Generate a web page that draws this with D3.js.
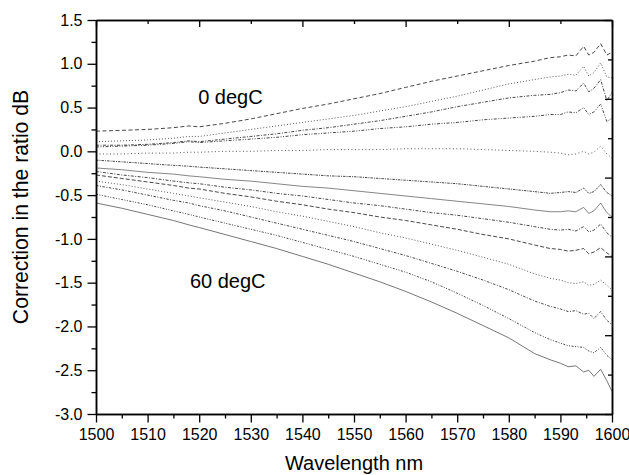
<!DOCTYPE html>
<html>
<head>
<meta charset="utf-8">
<script src="https://cdn.jsdelivr.net/npm/d3@7"></script>
<style>
  body { margin: 0; background: #fff; }
  text { font-family: "Liberation Sans", Arial, sans-serif; fill: #000; }
</style>
</head>
<body>
<svg id="chart"></svg>
<script>
// wavelength samples (nm)
const wavelengths = [1500, 1505, 1510, 1515, 1518, 1520, 1525, 1530, 1535, 1540, 1545, 1550, 1555, 1560, 1565, 1570, 1575, 1580, 1585, 1588, 1590, 1591.5, 1593, 1594.5, 1595.5, 1596.5, 1597.8, 1599, 1600];

// correction curves (dB), 0 degC at the top down to 60 degC at the bottom
const curve1 = [0.23, 0.24, 0.25, 0.27, 0.29, 0.28, 0.32, 0.37, 0.43, 0.49, 0.54, 0.60, 0.66, 0.73, 0.80, 0.86, 0.92, 0.98, 1.03, 1.07, 1.08, 1.10, 1.09, 1.20, 1.10, 1.13, 1.23, 1.10, 1.13];
const curve2 = [0.11, 0.12, 0.13, 0.15, 0.17, 0.17, 0.21, 0.25, 0.29, 0.33, 0.37, 0.41, 0.46, 0.51, 0.57, 0.63, 0.70, 0.77, 0.82, 0.85, 0.86, 0.88, 0.87, 0.97, 0.86, 0.90, 1.01, 0.85, 0.84];
const curve3 = [0.07, 0.07, 0.08, 0.10, 0.12, 0.11, 0.14, 0.17, 0.20, 0.24, 0.27, 0.31, 0.35, 0.40, 0.45, 0.51, 0.56, 0.61, 0.64, 0.65, 0.67, 0.70, 0.69, 0.78, 0.68, 0.72, 0.82, 0.58, 0.67];
const curve4 = [0.05, 0.06, 0.07, 0.09, 0.11, 0.10, 0.12, 0.14, 0.16, 0.19, 0.21, 0.23, 0.26, 0.28, 0.31, 0.33, 0.36, 0.38, 0.40, 0.42, 0.42, 0.45, 0.44, 0.50, 0.42, 0.45, 0.54, 0.34, 0.38];
const curve5 = [-0.03, -0.03, -0.02, -0.02, -0.01, -0.01, 0.00, 0.00, 0.01, 0.01, 0.02, 0.02, 0.02, 0.03, 0.03, 0.03, 0.02, 0.01, 0.00, -0.01, -0.02, -0.04, -0.03, 0.00, -0.03, -0.01, 0.06, -0.03, -0.08];
const curve6 = [-0.10, -0.12, -0.14, -0.16, -0.17, -0.18, -0.20, -0.22, -0.24, -0.26, -0.28, -0.29, -0.31, -0.33, -0.35, -0.37, -0.40, -0.43, -0.46, -0.48, -0.47, -0.46, -0.47, -0.42, -0.48, -0.46, -0.38, -0.47, -0.51];
const curve7 = [-0.19, -0.21, -0.24, -0.26, -0.28, -0.29, -0.32, -0.34, -0.37, -0.40, -0.42, -0.45, -0.48, -0.51, -0.54, -0.57, -0.60, -0.63, -0.67, -0.69, -0.69, -0.68, -0.69, -0.64, -0.71, -0.68, -0.59, -0.70, -0.75];
const curve8 = [-0.23, -0.27, -0.30, -0.34, -0.36, -0.37, -0.41, -0.44, -0.48, -0.51, -0.55, -0.59, -0.62, -0.66, -0.70, -0.73, -0.77, -0.81, -0.86, -0.89, -0.90, -0.89, -0.91, -0.86, -0.92, -0.90, -0.83, -0.93, -0.98];
const curve9 = [-0.27, -0.31, -0.35, -0.39, -0.42, -0.43, -0.48, -0.52, -0.57, -0.61, -0.66, -0.70, -0.75, -0.79, -0.84, -0.89, -0.95, -1.00, -1.07, -1.11, -1.12, -1.14, -1.13, -1.11, -1.17, -1.15, -1.10, -1.16, -1.20];
const curve10 = [-0.34, -0.38, -0.43, -0.48, -0.51, -0.53, -0.58, -0.63, -0.69, -0.74, -0.80, -0.86, -0.93, -0.99, -1.06, -1.13, -1.21, -1.29, -1.40, -1.45, -1.47, -1.50, -1.51, -1.49, -1.53, -1.52, -1.47, -1.53, -1.58];
const curve11 = [-0.39, -0.44, -0.50, -0.56, -0.59, -0.62, -0.68, -0.75, -0.82, -0.89, -0.96, -1.03, -1.11, -1.19, -1.28, -1.37, -1.47, -1.58, -1.71, -1.77, -1.80, -1.83, -1.82, -1.86, -1.85, -1.91, -1.83, -1.93, -1.98];
const curve12 = [-0.49, -0.55, -0.61, -0.68, -0.72, -0.75, -0.82, -0.89, -0.96, -1.04, -1.12, -1.20, -1.29, -1.38, -1.49, -1.62, -1.76, -1.91, -2.07, -2.15, -2.19, -2.22, -2.23, -2.24, -2.28, -2.30, -2.24, -2.33, -2.38];
const curve13 = [-0.59, -0.65, -0.72, -0.79, -0.84, -0.87, -0.95, -1.03, -1.11, -1.20, -1.29, -1.39, -1.49, -1.60, -1.72, -1.85, -1.99, -2.13, -2.31, -2.38, -2.42, -2.46, -2.45, -2.52, -2.50, -2.57, -2.49, -2.62, -2.74];

const curves = [curve1, curve2, curve3, curve4, curve5, curve6, curve7, curve8, curve9, curve10, curve11, curve12, curve13];

const xMajorTicks = [1500, 1510, 1520, 1530, 1540, 1550, 1560, 1570, 1580, 1590, 1600];
const yMajorTicks = [1.5, 1.0, 0.5, 0.0, -0.5, -1.0, -1.5, -2.0, -2.5, -3.0];

const width = 629;
const height = 475;
const margin = {top: 20, right: 17, bottom: 61, left: 96};

// line look per curve: dash pattern, colour
const lineStyles = [
  {dash: '4,2.5', color: '#333'},
  {dash: '1,2', color: '#444'},
  {dash: '3,1.5,1,1.5', color: '#333'},
  {dash: '3,1.5,1,1.5,1,1.5', color: '#333'},
  {dash: '1,2.5', color: '#444'},
  {dash: '2.5,1,1,1', color: '#333'},
  {dash: null, color: '#777'},
  {dash: '3,1.5,1,1.5', color: '#333'},
  {dash: '4,2', color: '#333'},
  {dash: '1,2', color: '#444'},
  {dash: '2.5,1.5,1,1.5', color: '#333'},
  {dash: '2,1.5,1,1.5,1,1.5', color: '#333'},
  {dash: null, color: '#666'},
];

const svg = d3.select('#chart')
    .attr('width', width)
    .attr('height', height);

const x = d3.scaleLinear()
    .domain([1500, 1600])
    .range([margin.left, width - margin.right]);

const y = d3.scaleLinear()
    .domain([-3.0, 1.5])
    .range([height - margin.bottom, margin.top]);

// right axis is an unlabeled layer with 10 even divisions
const yRight = d3.scaleLinear()
    .domain([0, 10])
    .range([margin.top, height - margin.bottom]);

const line = d3.line()
    .x((d) => x(d[0]))
    .y((d) => y(d[1]));

// curves
const plot = svg.append('g').attr('class', 'curves');
curves.forEach(function(values, i) {
  const pts = wavelengths.map((w, j) => [w, values[j]]);
  plot.append('path')
      .datum(pts)
      .attr('fill', 'none')
      .attr('stroke', lineStyles[i].color)
      .attr('stroke-width', 0.9)
      .attr('stroke-dasharray', lineStyles[i].dash)
      .attr('d', line);
});

function styleAxis(g) {
  g.select('.domain').attr('stroke', '#000').attr('stroke-width', 1.5);
  g.selectAll('.tick line').attr('stroke', '#000').attr('stroke-width', 1.3);
  g.selectAll('.tick text')
      .style('font-family', '"Liberation Sans", Arial, sans-serif')
      .style('font-size', '16px')
      .attr('fill', '#000');
}

const xMinor = d3.range(1505, 1600, 10);
const yMinor = d3.range(-2.75, 1.5, 0.5);

// bottom
svg.append('g')
    .attr('transform', `translate(0,${height - margin.bottom})`)
    .call(d3.axisBottom(x).tickValues(xMinor).tickSize(4.5).tickSizeOuter(0).tickFormat(''))
    .call(styleAxis);
svg.append('g')
    .attr('transform', `translate(0,${height - margin.bottom})`)
    .call(d3.axisBottom(x).tickValues(xMajorTicks).tickSize(8.5).tickSizeOuter(0).tickPadding(6).tickFormat(d3.format('d')))
    .call(styleAxis);

// top
svg.append('g')
    .attr('transform', `translate(0,${margin.top})`)
    .call(d3.axisTop(x).tickValues(d3.range(1510, 1600, 20)).tickSize(-4).tickSizeOuter(0).tickFormat(''))
    .call(styleAxis);
svg.append('g')
    .attr('transform', `translate(0,${margin.top})`)
    .call(d3.axisTop(x).tickValues(d3.range(1500, 1601, 20)).tickSize(-7).tickSizeOuter(0).tickFormat(''))
    .call(styleAxis);

// left
svg.append('g')
    .attr('transform', `translate(${margin.left},0)`)
    .call(d3.axisLeft(y).tickValues(yMinor).tickSize(4.5).tickSizeOuter(0).tickFormat(''))
    .call(styleAxis);
svg.append('g')
    .attr('transform', `translate(${margin.left},0)`)
    .call(d3.axisLeft(y).tickValues(yMajorTicks).tickSize(8.5).tickSizeOuter(0).tickPadding(5)
        .tickFormat((d) => d.toFixed(1)))
    .call(styleAxis);

// right
svg.append('g')
    .attr('transform', `translate(${width - margin.right},0)`)
    .call(d3.axisRight(yRight).tickValues([1, 3, 5, 7, 9]).tickSize(-4).tickSizeOuter(0).tickFormat(''))
    .call(styleAxis);
svg.append('g')
    .attr('transform', `translate(${width - margin.right},0)`)
    .call(d3.axisRight(yRight).tickValues([0, 2, 4, 6, 8, 10]).tickSize(-7).tickSizeOuter(0).tickFormat(''))
    .call(styleAxis);

// titles
svg.append('text')
    .attr('x', (margin.left + width - margin.right) / 2)
    .attr('y', 470)
    .attr('text-anchor', 'middle')
    .style('font-size', '20px')
    .text('Wavelength nm');

svg.append('text')
    .attr('transform', `translate(28,${(margin.top + height - margin.bottom) / 2 - 10}) rotate(-90)`)
    .attr('text-anchor', 'middle')
    .style('font-size', '21.2px')
    .text('Correction in the ratio dB');

// temperature labels
svg.append('text')
    .attr('x', x(1519.8))
    .attr('y', y(0.54))
    .style('font-size', '20px')
    .text('0 degC');

svg.append('text')
    .attr('x', x(1518.2))
    .attr('y', y(-1.56))
    .style('font-size', '20px')
    .text('60 degC');
</script>
</body>
</html>
